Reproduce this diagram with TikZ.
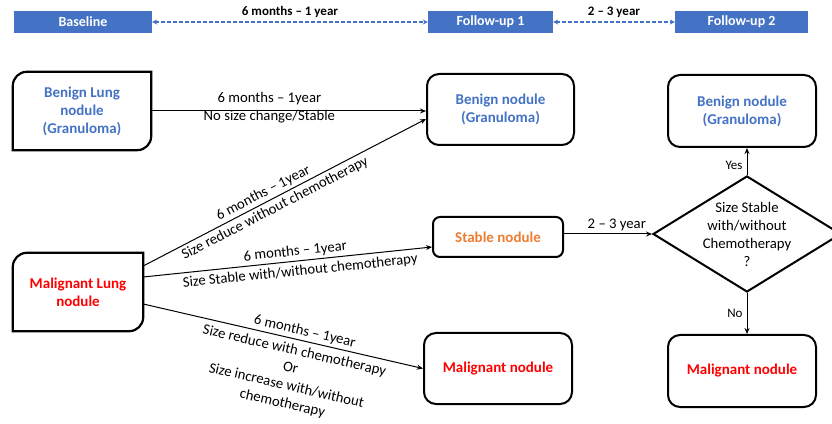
\documentclass[tikz,border=0pt]{standalone}
\usepackage{fontspec}
\setmainfont{Carlito}
\usetikzlibrary{arrows.meta,shapes.geometric,calc}
\definecolor{bblue}{HTML}{4472C4}
\definecolor{txtblue}{HTML}{4472C4}
\definecolor{orng}{HTML}{ED7D31}
\begin{document}
\begin{tikzpicture}[x=1pt,y=1pt,
  font=\fontsize{14.7}{18}\selectfont,
  topbox/.style={fill=bblue, text=white, font=\fontsize{14}{16}\selectfont\bfseries, minimum height=22pt, inner sep=0pt},
  toplbl/.style={text=black, font=\fontsize{13}{15}\selectfont\bfseries, inner sep=0pt},
  tarrow/.style={bblue, line width=1.2pt, dash pattern=on 4pt off 2pt, {Stealth[length=5pt,width=5pt]}-{Stealth[length=5pt,width=5pt]}},
  rbox/.style={draw, line width=2pt, rounded corners=12pt, font=\fontsize{15}{18}\selectfont\bfseries, align=center, inner sep=0pt},
  lbox/.style={font=\fontsize{15}{18}\selectfont\bfseries, align=center, inner sep=0pt},
  outl/.style={line width=2.2pt},
  conn/.style={line width=1pt, -{Stealth[length=6pt,width=5pt]}},
  lbl/.style={font=\fontsize{14.7}{18}\selectfont, sloped, inner sep=0pt, align=center}
]
\useasboundingbox (0,0) rectangle (832,423);
\clip (0,0) rectangle (832,423);

% top timeline
\node[topbox, minimum width=138pt] (base) at (83,401) {Baseline};
\node[topbox, minimum width=125pt] (fu1) at (490.5,401) {Follow-up 1};
\node[topbox, minimum width=133pt] (fu2) at (741.5,401) {Follow-up 2};
\draw[tarrow] (base) -- (fu1) node[toplbl, midway, above=4pt] {6 months – 1 year};
\draw[tarrow] (fu1) -- (fu2) node[toplbl, midway, above=4pt] {2 – 3 year};

% left boxes
\node[lbox, minimum width=138pt, minimum height=78pt, text=txtblue] (bl) at (82,312) {Benign Lung\\nodule\\(Granuloma)};
\draw[outl] ([yshift=-14pt]bl.north west) arc[start angle=180,end angle=90,radius=14pt] -- (bl.north east) -- ([yshift=14pt]bl.south east) arc[start angle=0,end angle=-90,radius=14pt] -- (bl.south west) -- cycle;
\node[lbox, minimum width=130pt, minimum height=78pt, text=red] (ml) at (78,131) {Malignant Lung\\nodule};
\draw[outl] ([yshift=-14pt]ml.north west) arc[start angle=180,end angle=90,radius=14pt] -- (ml.north east) -- ([yshift=14pt]ml.south east) arc[start angle=0,end angle=-90,radius=14pt] -- (ml.south west) -- cycle;

% follow-up 1 boxes
\node[rbox, minimum width=147pt, minimum height=71pt, text=txtblue] (b1) at (500.5,313.5) {Benign nodule\\(Granuloma)};
\node[rbox, rounded corners=7pt, minimum width=130pt, minimum height=40pt, text=orng] (st) at (498,186) {Stable nodule};
\node[rbox, minimum width=148pt, minimum height=71pt, text=red] (m1) at (498,54.5) {Malignant nodule};

% follow-up 2
\node[diamond, draw, line width=2pt, minimum width=188pt, minimum height=116pt, aspect=1.62, inner sep=0pt] (dia) at (747,189) {};
\node[align=center, inner sep=0pt] (dtx) at (747,189) {Size Stable\\with/without\\Chemotherapy\\?};
\node[rbox, minimum width=148pt, minimum height=72pt, text=txtblue] (b2) at (742,312) {Benign nodule\\(Granuloma)};
\node[rbox, minimum width=148pt, minimum height=72pt, text=red] (m2) at (742,52) {Malignant nodule};

% connectors
\draw[conn] (bl.east) -- (b1.west |- bl.east)
  node[lbl, pos=0.43, above=6pt] {6 months – 1year}
  node[lbl, pos=0.43, below=-1pt] {No size change/Stable};
\draw[conn] ([yshift=26pt]ml.east) -- ([yshift=-9.5pt]b1.west)
  node[lbl, pos=0.44, above=2.5pt] {6 months – 1year}
  node[lbl, pos=0.45, below=3pt] {Size reduce without chemotherapy};
\draw[conn] ([yshift=15pt]ml.east) -- ([yshift=-10pt]st.west)
  node[lbl, pos=0.53, above=2.5pt] {6 months – 1year}
  node[lbl, pos=0.54, below=4pt] {Size Stable with/without chemotherapy};
\draw[conn] ([yshift=-12pt]ml.east) -- (m1.west)
  node[lbl, pos=0.57, above=2.5pt] {6 months – 1year}
  node[lbl, pos=0.55, below=5pt] {Size reduce with chemotherapy\\Or\\Size increase with/without\\chemotherapy};
\draw[conn] (st.east |- dia.west) -- (dia.west)
  node[lbl, pos=0.6, above=3pt] {2 – 3 year};
\draw[conn] (dia.north) -- (dia.north |- b2.south)
  node[lbl, sloped=false, pos=0.35, left=4pt, font=\fontsize{13}{15}\selectfont] {Yes};
\draw[conn] (dia.south) -- (dia.south |- m2.north)
  node[lbl, sloped=false, midway, left=4pt, font=\fontsize{13}{15}\selectfont] {No};
\end{tikzpicture}
\end{document}
